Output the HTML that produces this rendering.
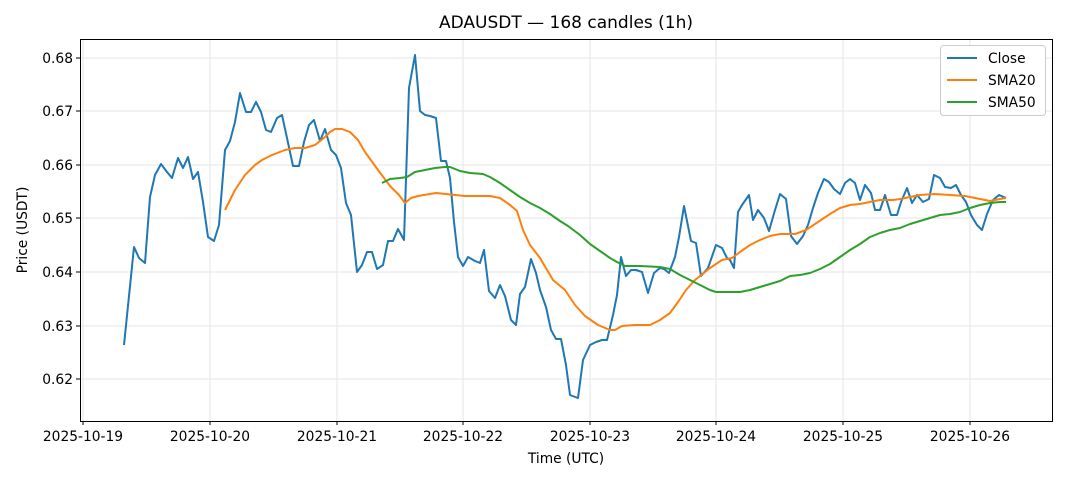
<!DOCTYPE html>
<html><head><meta charset="utf-8"><style>
body{margin:0;background:#fff}
svg{display:block;font-family:"DejaVu Sans","Liberation Sans",sans-serif}
</style></head><body>
<svg width="1068" height="481" viewBox="0 0 1068 481">
<rect width="1068" height="481" fill="#fff"/>
<g stroke="#e6e6e6" stroke-width="1">
<line x1="83" y1="39" x2="83" y2="421"/><line x1="210" y1="39" x2="210" y2="421"/><line x1="337" y1="39" x2="337" y2="421"/><line x1="463" y1="39" x2="463" y2="421"/><line x1="590" y1="39" x2="590" y2="421"/><line x1="716" y1="39" x2="716" y2="421"/><line x1="843" y1="39" x2="843" y2="421"/><line x1="970" y1="39" x2="970" y2="421"/>
<line x1="80" y1="58" x2="1052" y2="58"/><line x1="80" y1="111" x2="1052" y2="111"/><line x1="80" y1="165" x2="1052" y2="165"/><line x1="80" y1="218" x2="1052" y2="218"/><line x1="80" y1="272" x2="1052" y2="272"/><line x1="80" y1="326" x2="1052" y2="326"/><line x1="80" y1="379" x2="1052" y2="379"/>
</g>
<g fill="none" stroke-width="2" stroke-linejoin="round">
<polyline stroke="#1f77b4" points="124,345 134,247 139,258 145,263 150,197 155,175 161,164 167,172 172,178 178,158 183,168 188,157 193,179 198,172 203,202 208,237 214,241 219,225 225,150 230,141 235,122 240,93 246,112 251,112 256,102 261,112 266,130 271,132 277,118 282,115 287,138 293,166 299,166 304,142 309,125 314,120 320,141 325,129 331,150 336,155 341,168 346,203 351,215 357,272 362,265 367,252 372,252 377,269 383,265 388,241 393,241 398,229 404,240 409,88 415,55 420,111 425,115 430,116 436,118 441,161 446,161 450,178 454,222 458,257 463,266 468,257 475,261 480,263 484,250 489,291 495,298 500,285 505,296 511,320 516,325 520,294 525,287 531,259 536,273 540,290 546,307 551,330 556,339 561,339 566,365 570,395 578,398 583,360 590,345 596,342 602,340 607,340 613,315 617,295 621,257 626,276 631,270 636,270 642,272 648,293 654,273 660,268 664,269 669,273 675,257 679,237 684,206 691,241 696,243 701,276 708,268 716,245 722,248 727,258 730,260 734,268 738,212 742,205 749,195 753,220 758,210 764,218 769,231 775,210 780,194 786,199 791,236 797,244 803,236 808,225 813,208 818,193 824,179 829,182 834,189 840,194 845,183 850,179 855,183 860,200 865,185 871,193 875,210 880,210 885,195 891,215 897,215 901,202 907,188 912,203 917,195 923,202 929,199 934,175 940,178 945,187 951,188 956,185 961,195 966,202 971,215 977,225 982,230 987,214 993,200 999,195 1006,198"/>
<polyline stroke="#ff7f0e" points="225,210 235,190 245,175 255,165 262,160 272,155 285,150 295,148 305,148 315,145 325,137 330,132 335,129 342,129 350,132 358,140 365,152 378,170 390,186 399,195 405,203 411,198 418,196 430,194 436,193 446,194 455,195 465,196 480,196 490,196 500,198 510,205 517,211 523,230 530,245 540,258 553,280 565,290 575,305 585,316 598,325 610,330 615,330 622,326 635,325 650,325 660,320 670,313 678,302 686,290 695,280 710,268 722,260 732,258 740,252 750,245 760,240 770,236 780,234 795,234 806,230 818,222 830,214 840,208 850,205 860,204 870,202 880,200 893,200 900,199 910,197 920,195 935,194 950,195 965,196 975,198 990,201 1000,199 1006,198"/>
<polyline stroke="#2ca02c" points="382,183 390,179 400,178 407,177 415,172 425,170 435,168 445,167 450,167 460,171 470,173 483,174 490,177 500,183 510,190 520,197 530,203 540,208 550,214 560,221 568,226 580,235 590,244 600,251 610,258 617,262 625,266 640,266 660,267 670,269 680,275 690,280 700,285 710,290 716,292 735,292 740,292 750,290 760,287 770,284 780,281 790,276 800,275 810,273 820,269 830,264 840,257 850,250 860,244 870,237 880,233 890,230 900,228 910,224 920,221 930,218 940,215 950,214 960,212 970,208 980,205 990,203 1000,202 1006,202"/>
</g>
<rect x="80.5" y="39.5" width="972" height="382" fill="none" stroke="#000" stroke-width="1"/>
<g stroke="#000" stroke-width="1">
<line x1="83" y1="421" x2="83" y2="425"/><line x1="210" y1="421" x2="210" y2="425"/><line x1="337" y1="421" x2="337" y2="425"/><line x1="463" y1="421" x2="463" y2="425"/><line x1="590" y1="421" x2="590" y2="425"/><line x1="716" y1="421" x2="716" y2="425"/><line x1="843" y1="421" x2="843" y2="425"/><line x1="970" y1="421" x2="970" y2="425"/>
<line x1="76" y1="58" x2="80" y2="58"/><line x1="76" y1="111" x2="80" y2="111"/><line x1="76" y1="165" x2="80" y2="165"/><line x1="76" y1="218" x2="80" y2="218"/><line x1="76" y1="272" x2="80" y2="272"/><line x1="76" y1="326" x2="80" y2="326"/><line x1="76" y1="379" x2="80" y2="379"/>
</g>
<g font-size="13.8" fill="#000" text-anchor="middle">
<text x="83" y="441">2025-10-19</text><text x="210" y="441">2025-10-20</text><text x="337" y="441">2025-10-21</text><text x="463" y="441">2025-10-22</text><text x="590" y="441">2025-10-23</text><text x="716" y="441">2025-10-24</text><text x="843" y="441">2025-10-25</text><text x="970" y="441">2025-10-26</text>
</g>
<g font-size="13.8" fill="#000" text-anchor="end">
<text x="73" y="63">0.68</text><text x="73" y="116">0.67</text><text x="73" y="170">0.66</text><text x="73" y="223">0.65</text><text x="73" y="277">0.64</text><text x="73" y="331">0.63</text><text x="73" y="384">0.62</text>
</g>
<text x="566" y="463" font-size="13.8" text-anchor="middle">Time (UTC)</text>
<text transform="translate(27,230) rotate(-90)" font-size="13.8" text-anchor="middle">Price (USDT)</text>
<text x="566" y="28" font-size="17" text-anchor="middle">ADAUSDT — 168 candles (1h)</text>
<rect x="940.5" y="45.5" width="105" height="70" rx="3" fill="#fff" stroke="#ccc"/>
<g stroke-width="2"><line x1="947" y1="58" x2="977" y2="58" stroke="#1f77b4"/><line x1="947" y1="80" x2="977" y2="80" stroke="#ff7f0e"/><line x1="947" y1="102" x2="977" y2="102" stroke="#2ca02c"/></g>
<g font-size="13.8"><text x="988" y="63">Close</text><text x="988" y="85">SMA20</text><text x="988" y="107">SMA50</text></g>
</svg>
</body></html>
